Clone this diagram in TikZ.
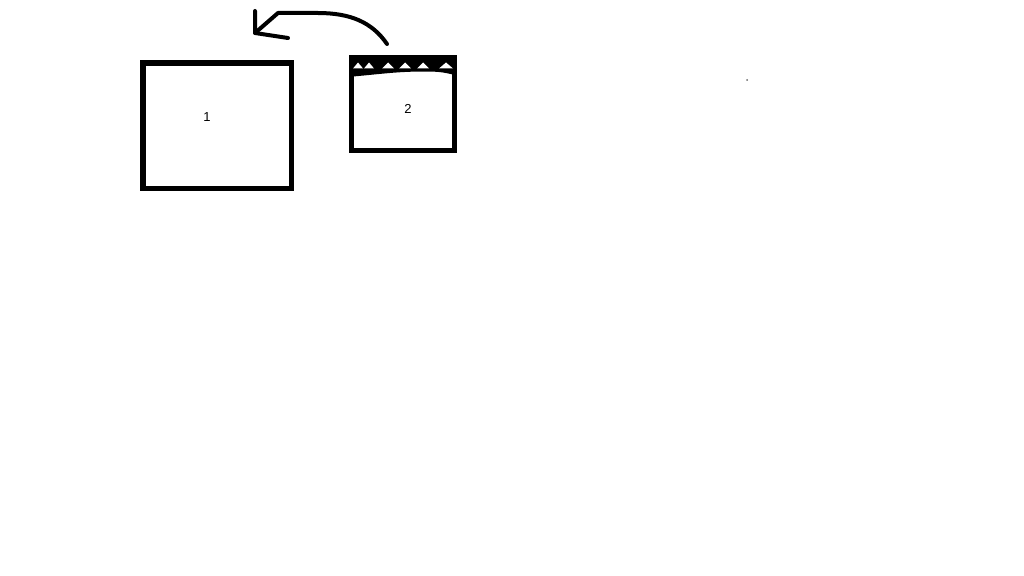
\documentclass[tikz,border=0pt]{standalone}
\usepackage{fontspec}
\setmainfont{Liberation Sans}

\begin{document}
\begin{tikzpicture}[x=1pt, y=-1pt,
	box/.style={draw, line width=5.5pt, inner sep=0pt, line join=miter},
	pen/.style={line width=4pt, line cap=round, line join=round},
	digit/.style={font=\fontsize{13}{15}\selectfont, inner sep=0pt}]
	\useasboundingbox (0, 0) rectangle (1024, 575);

	\node[box, minimum width=148.5pt, minimum height=125.5pt] (box1) at (217.25, 125.75) {};
	\node[box, line width=5pt, minimum width=103.5pt, minimum height=92pt] (box2) at (402.75, 104) {};

	% lid of box 2
	\fill (351, 58) -- (454.5, 58) -- (454.5, 75) to[out=165, in=0] (425, 71.5)
		to[out=180, in=5] (353, 76.5) -- cycle;
	\foreach \x/\w in {358/5, 369/5, 388/6, 405/6, 423/6, 446/7}
		\fill[white] (\x-\w, 68.5) -- (\x, 62.5) -- (\x+\w, 68.5) -- cycle;

	\coordinate (tail) at (387, 44);
	\coordinate (bend) at (318, 13);
	\coordinate (tip) at (255, 33);
	\coordinate (barbup) at (255, 11);
	\coordinate (barbright) at (288, 38);
	\draw[pen] (tail) .. controls (372, 22) and (350, 13) .. (bend) -- (278, 13) -- (tip);
	\draw[pen] (barbup) -- (tip) -- (barbright);

	\fill[black!60] (747, 80) circle (1pt); % dot

	\node[digit] (one) at (207, 117.5) {1};
	\node[digit] (two) at (408, 108.5) {2};
\end{tikzpicture}
\end{document}
